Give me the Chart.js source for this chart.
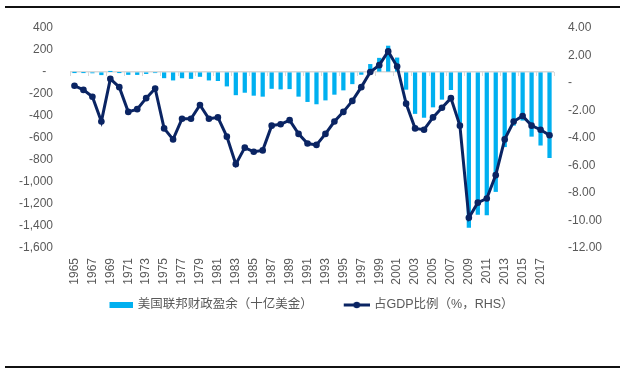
<!DOCTYPE html>
<html><head><meta charset="utf-8">
<script src="https://cdn.jsdelivr.net/npm/chart.js@4.4.1/dist/chart.umd.min.js"></script>
<style>
html,body{margin:0;padding:0;background:#fff;}
#wrap{position:relative;width:629px;height:375px;overflow:hidden;}
#c{position:absolute;left:0;top:0;}
.rule{position:absolute;left:5px;width:615px;height:1.5px;background:#111;}
</style></head>
<body>
<div id="wrap">
<div class="rule" style="top:6px"></div>
<canvas id="c" width="629" height="375"></canvas>
<div class="rule" style="top:366px"></div>
</div>
<script>
const years = ['1965','1966','1967','1968','1969','1970','1971','1972','1973','1974','1975','1976','1977','1978','1979','1980','1981','1982','1983','1984','1985','1986','1987','1988','1989','1990','1991','1992','1993','1994','1995','1996','1997','1998','1999','2000','2001','2002','2003','2004','2005','2006','2007','2008','2009','2010','2011','2012','2013','2014','2015','2016','2017','2018'];
const surplusBillion = [-1.4,-3.7,-8.6,-25.2,3.2,-2.8,-23.0,-23.4,-14.9,-6.1,-53.2,-73.7,-53.7,-59.2,-40.7,-73.8,-79.0,-128.0,-207.8,-185.4,-212.3,-221.2,-149.7,-155.2,-152.6,-221.0,-269.2,-290.3,-255.1,-203.2,-164.0,-107.4,-21.9,69.3,125.6,236.2,128.2,-157.8,-377.6,-412.7,-318.3,-248.2,-160.7,-458.6,-1412.7,-1294.4,-1299.6,-1087.0,-679.5,-484.6,-438.5,-584.7,-665.4,-779.1];
const surplusPctGDP = [-0.2,-0.5,-1.0,-2.8,0.3,-0.3,-2.1,-1.9,-1.1,-0.4,-3.3,-4.1,-2.6,-2.6,-1.6,-2.6,-2.5,-3.9,-5.9,-4.7,-5.0,-4.9,-3.1,-3.0,-2.7,-3.7,-4.4,-4.5,-3.7,-2.8,-2.1,-1.3,-0.3,0.8,1.3,2.3,1.2,-1.5,-3.3,-3.4,-2.5,-1.8,-1.1,-3.1,-9.8,-8.7,-8.4,-6.7,-4.1,-2.8,-2.4,-3.1,-3.4,-3.8];
const leftAxisTicks = [400,200,0,-200,-400,-600,-800,-1000,-1200,-1400,-1600];
const rightAxisTicks = [4,2,0,-2,-4,-6,-8,-10,-12];
const seriesNames = ['美国联邦财政盈余（十亿美金）','占GDP比例（%，RHS）'];

const BAR_COLOR = '#00B0F0';
const LINE_COLOR = '#0A2463';
const TEXT_COLOR = '#595959';
const FONT = '"Liberation Sans", Arial, "Noto Sans CJK SC", sans-serif';
const LEGEND_BOX = 49;

// legend icons (transparent lead-in gives the spacing between legend items)
function makeBarIcon(){
  const c = document.createElement('canvas'); c.width = LEGEND_BOX + 4; c.height = 6;
  const g = c.getContext('2d'); g.fillStyle = BAR_COLOR; g.fillRect(c.width - 24, 0, 24, 6); return c;
}
function makeLineIcon(){
  const c = document.createElement('canvas'); c.width = LEGEND_BOX + 4; c.height = 8;
  const g = c.getContext('2d'); g.strokeStyle = LINE_COLOR; g.lineWidth = 3;
  g.beginPath(); g.moveTo(c.width - 26, 4); g.lineTo(c.width, 4); g.stroke();
  g.fillStyle = LINE_COLOR; g.beginPath(); g.arc(c.width - 13, 4, 3.3, 0, Math.PI * 2); g.fill(); return c;
}
const barIcon = makeBarIcon(), lineIcon = makeLineIcon();

const zeroTicks = {
  id: 'zeroTicks',
  beforeDatasetsDraw(chart){
    const {ctx, scales:{x, y}} = chart;
    const y0 = y.getPixelForValue(0);
    const half = (x.getPixelForValue(1) - x.getPixelForValue(0)) / 2;
    ctx.save(); ctx.strokeStyle = '#D9D9D9'; ctx.lineWidth = 1;
    for (let i = 0; i <= years.length; i += 2) {
      const px = Math.round(x.getPixelForValue(i) - half) + 0.5;
      ctx.beginPath(); ctx.moveTo(px, y0); ctx.lineTo(px, y0 + 4); ctx.stroke();
    }
    ctx.restore();
  }
};

new Chart(document.getElementById('c'), {
  data: {
    labels: years,
    datasets: [
      { type: 'bar', label: seriesNames[0], data: surplusBillion, yAxisID: 'y',
        backgroundColor: BAR_COLOR, borderWidth: 0, barThickness: 3.6, order: 2 },
      { type: 'line', label: seriesNames[1], data: surplusPctGDP, yAxisID: 'y1',
        borderColor: LINE_COLOR, backgroundColor: LINE_COLOR, borderWidth: 3,
        pointRadius: 3.3, pointBackgroundColor: LINE_COLOR, pointBorderWidth: 0,
        tension: 0, order: 1 }
    ]
  },
  options: {
    responsive: false, animation: false,
    layout: { padding: { left: -6, right: 27, top: 28, bottom: 53.75 } },
    plugins: {
      tooltip: { enabled: false },
      legend: {
        position: 'bottom',
        labels: {
          usePointStyle: true, pointStyleWidth: LEGEND_BOX, padding: 6,
          color: TEXT_COLOR, font: { family: FONT, size: 12.5 },
          sort: (a, b) => a.datasetIndex - b.datasetIndex,
          generateLabels(chart){
            const items = Chart.defaults.plugins.legend.labels.generateLabels(chart);
            items.forEach(it => { it.pointStyle = it.datasetIndex === 0 ? barIcon : lineIcon; });
            return items;
          }
        }
      }
    },
    scales: {
      x: {
        grid: { display: false, drawTicks: false }, border: { display: false },
        afterFit: s => { s.height = 44.75; },
        ticks: { autoSkip: false, minRotation: 90, maxRotation: 90, padding: 10,
          color: TEXT_COLOR, font: { family: FONT, size: 12 },
          callback: (v, i) => (i % 2 === 0 ? years[i] : '') }
      },
      y: {
        position: 'left', min: leftAxisTicks[leftAxisTicks.length-1], max: leftAxisTicks[0],
        afterBuildTicks: s => { s.ticks = leftAxisTicks.map(v => ({ value: v })); },
        afterFit: s => { s.width = 76; },
        grid: { drawTicks: false, lineWidth: 1.5, color: ctx => (ctx.tick && ctx.tick.value === 0 ? '#D9D9D9' : 'rgba(0,0,0,0)') },
        border: { display: false },
        ticks: { padding: 17, color: TEXT_COLOR, font: { family: FONT, size: 12 },
          callback: v => (v === 0 ? '-  ' : v.toLocaleString('en-US')) }
      },
      y1: {
        position: 'right', min: rightAxisTicks[rightAxisTicks.length-1], max: rightAxisTicks[0],
        afterBuildTicks: s => { s.ticks = rightAxisTicks.map(v => ({ value: v })); },
        afterFit: s => { s.width = 48; },
        grid: { display: false, drawTicks: false }, border: { display: false },
        ticks: { padding: 14, color: TEXT_COLOR, font: { family: FONT, size: 12 },
          callback: v => (v === 0 ? '-' : v.toFixed(2)) }
      }
    }
  },
  plugins: [zeroTicks]
});
</script>
</body></html>
